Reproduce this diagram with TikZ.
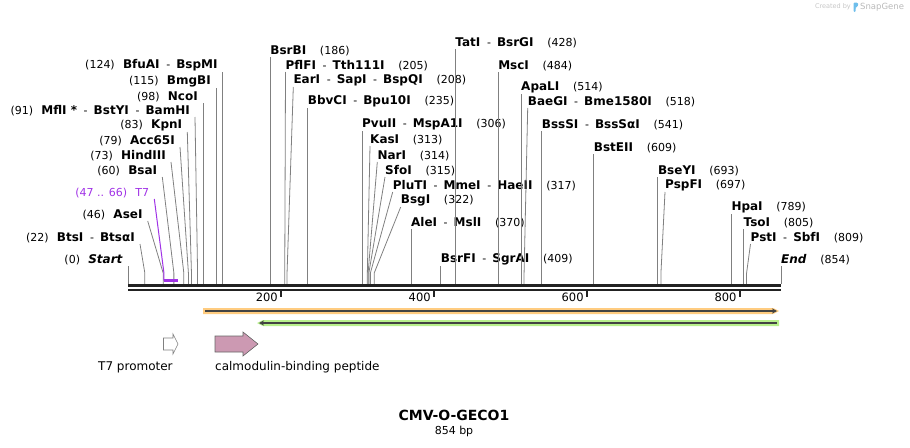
\documentclass[tikz,border=0pt]{standalone}
\usepackage{fontspec}
\setmainfont{DejaVu Sans}
\usetikzlibrary{arrows.meta}
\definecolor{sitegray}{RGB}{128,128,128}
\definecolor{axisblack}{RGB}{34,34,34}
\definecolor{tsevenviolet}{RGB}{160,50,230}
\definecolor{orffill}{RGB}{255,204,128}
\definecolor{revfill}{RGB}{184,240,140}
\definecolor{cbpfill}{RGB}{204,153,178}
\definecolor{logoblue}{RGB}{110,190,235}
\newcommand{\numgap}{\hspace{0.75em}}
\newcommand{\rnumgap}{\hspace{1.25em}}
\newcommand{\orsep}{\hspace{0.6em}-\hspace{0.55em}}
\newcommand{\enz}[1]{{\fontsize{12}{13}\selectfont\bfseries #1}}
\newcommand{\bpx}{0.76464}
\tikzset{cut/.style={draw=sitegray, line width=0.8pt}, }
\tikzset{left site/.style={anchor=south east, inner xsep=5pt, inner ysep=1pt, font=\fontsize{11}{13}\selectfont}, }
\tikzset{right site/.style={anchor=south west, inner xsep=0pt, inner ysep=1pt, font=\fontsize{11}{13}\selectfont}, }
\tikzset{feature label/.style={anchor=base west, inner sep=0pt, font=\fontsize{12}{14}\selectfont}, }
\tikzset{tick label/.style={anchor=east, inner sep=0pt, font=\fontsize{11.5}{13}\selectfont}, }

\begin{document}
\begin{tikzpicture}[x=1pt, y=-1pt]
	\useasboundingbox (0,0) rectangle (910,447);

	% cut sites on the sequence
	\coordinate (s0) at (128,284);
	\coordinate (s22) at ({128+22*\bpx},284);
	\coordinate (s46) at ({128+46*\bpx},284);
	\coordinate (s47) at ({128+47*\bpx},280.5);
	\coordinate (s66) at ({128+66*\bpx},280.5);
	\coordinate (s60) at ({128+60*\bpx},284);
	\coordinate (s73) at ({128+73*\bpx},284);
	\coordinate (s79) at ({128+79*\bpx},284);
	\coordinate (s83) at ({128+83*\bpx},284);
	\coordinate (s91) at ({128+91*\bpx},284);
	\coordinate (s98) at ({128+98*\bpx},284);
	\coordinate (s115) at ({128+115*\bpx},284);
	\coordinate (s124) at ({128+124*\bpx},284);
	\coordinate (s186) at ({128+186*\bpx},284);
	\coordinate (s205) at ({128+205*\bpx},284);
	\coordinate (s208) at ({128+208*\bpx},284);
	\coordinate (s235) at ({128+235*\bpx},284);
	\coordinate (s306) at ({128+306*\bpx},284);
	\coordinate (s313) at ({128+313*\bpx},284);
	\coordinate (s314) at ({128+314*\bpx},284);
	\coordinate (s315) at ({128+315*\bpx},284);
	\coordinate (s317) at ({128+317*\bpx},284);
	\coordinate (s322) at ({128+322*\bpx},284);
	\coordinate (s370) at ({128+370*\bpx},284);
	\coordinate (s409) at ({128+409*\bpx},284);
	\coordinate (s428) at ({128+428*\bpx},284);
	\coordinate (s484) at ({128+484*\bpx},284);
	\coordinate (s514) at ({128+514*\bpx},284);
	\coordinate (s518) at ({128+518*\bpx},284);
	\coordinate (s541) at ({128+541*\bpx},284);
	\coordinate (s609) at ({128+609*\bpx},284);
	\coordinate (s693) at ({128+693*\bpx},284);
	\coordinate (s697) at ({128+697*\bpx},284);
	\coordinate (s789) at ({128+789*\bpx},284);
	\coordinate (s805) at ({128+805*\bpx},284);
	\coordinate (s809) at ({128+809*\bpx},284);
	\coordinate (s854) at (781,284);

	% labels left of their lines
	\node[left site] (l124) at (s124 |- 0,72) {(124)\numgap\enz{BfuAI}\orsep\enz{BspMI}};
	\node[left site] (l115) at (s115 |- 0,88) {(115)\numgap\enz{BmgBI}};
	\node[left site] (l98) at (s98 |- 0,103) {(98)\numgap\enz{NcoI}};
	\node[left site] (l91) at (195,117) {(91)\numgap\enz{MflI *}\orsep\enz{BstYI}\orsep\enz{BamHI}};
	\node[left site] (l83) at (187.3,132) {(83)\numgap\enz{KpnI}};
	\node[left site] (l79) at (180,147) {(79)\numgap\enz{Acc65I}};
	\node[left site] (l73) at (171,162) {(73)\numgap\enz{HindIII}};
	\node[left site] (l60) at (162.3,177) {(60)\numgap\enz{BsaI}};
	\node[left site, text=tsevenviolet] (lt7) at (154.3,199) {(47 .. 66)\numgap T7};
	\node[left site] (l46) at (147.7,221) {(46)\numgap\enz{AseI}};
	\node[left site] (l22) at (140,244) {(22)\numgap\enz{BtsI}\orsep\enz{BtsαI}};
	\node[left site] (l0) at (s0 |- 0,266) {(0)\numgap\enz{\textit{Start}}};

	% labels right of their lines
	\node[right site] (l186) at (s186 |- 0,57) {\enz{BsrBI}\rnumgap(186)};
	\node[right site] (l205) at (285.5,72) {\enz{PflFI}\orsep\enz{Tth111I}\rnumgap(205)};
	\node[right site] (l208) at (293.3,87) {\enz{EarI}\orsep\enz{SapI}\orsep\enz{BspQI}\rnumgap(208)};
	\node[right site] (l235) at (s235 |- 0,108) {\enz{BbvCI}\orsep\enz{Bpu10I}\rnumgap(235)};
	\node[right site] (l306) at (s306 |- 0,131) {\enz{PvuII}\orsep\enz{MspA1I}\rnumgap(306)};
	\node[right site] (l313) at (370,146) {\enz{KasI}\rnumgap(313)};
	\node[right site] (l314) at (377.3,162) {\enz{NarI}\rnumgap(314)};
	\node[right site] (l315) at (385,177) {\enz{SfoI}\rnumgap(315)};
	\node[right site] (l317) at (392.7,192) {\enz{PluTI}\orsep\enz{MmeI}\orsep\enz{HaeII}\rnumgap(317)};
	\node[right site] (l322) at (400.7,207) {\enz{BsgI}\rnumgap(322)};
	\node[right site] (l370) at (s370 |- 0,229) {\enz{AleI}\orsep\enz{MslI}\rnumgap(370)};
	\node[right site] (l409) at (s409 |- 0,266) {\enz{BsrFI}\orsep\enz{SgrAI}\rnumgap(409)};
	\node[right site] (l428) at (s428 |- 0,49) {\enz{TatI}\orsep\enz{BsrGI}\rnumgap(428)};
	\node[right site] (l484) at (s484 |- 0,72) {\enz{MscI}\rnumgap(484)};
	\node[right site] (l514) at (s514 |- 0,94) {\enz{ApaLI}\rnumgap(514)};
	\node[right site] (l518) at (527.7,108) {\enz{BaeGI}\orsep\enz{Bme1580I}\rnumgap(518)};
	\node[right site] (l541) at (s541 |- 0,131) {\enz{BssSI}\orsep\enz{BssSαI}\rnumgap(541)};
	\node[right site] (l609) at (s609 |- 0,154) {\enz{BstEII}\rnumgap(609)};
	\node[right site] (l693) at (s693 |- 0,177) {\enz{BseYI}\rnumgap(693)};
	\node[right site] (l697) at (665,192) {\enz{PspFI}\rnumgap(697)};
	\node[right site] (l789) at (s789 |- 0,214) {\enz{HpaI}\rnumgap(789)};
	\node[right site] (l805) at (s805 |- 0,229) {\enz{TsoI}\rnumgap(805)};
	\node[right site] (l809) at (750.5,244) {\enz{PstI}\orsep\enz{SbfI}\rnumgap(809)};
	\node[right site] (l854) at (s854 |- 0,266) {\enz{\textit{End}}\rnumgap(854)};

	% lines from the sites up to the labels
	\draw[cut] (s0) -- (l0.south east);
	\draw[cut] (s22) -- ++(0,-11) -- (l22.south east);
	\draw[cut] (s46) -- ++(0,-11) -- (l46.south east);
	\draw[cut] (s60) -- ++(0,-11) -- (l60.south east);
	\draw[cut] (s73) -- ++(0,-11) -- (l73.south east);
	\draw[cut] (s79) -- ++(0,-11) -- (l79.south east);
	\draw[cut] (s83) -- ++(0,-11) -- (l83.south east);
	\draw[cut] (s91) -- ++(0,-11) -- (l91.south east);
	\draw[cut] (s98) -- (l98.south east);
	\draw[cut] (s115) -- (l115.south east);
	\draw[cut] (s124) -- (l124.south east);
	\draw[cut] (s186) -- (l186.south west);
	\draw[cut] (s205) -- ++(0,-11) -- (l205.south west);
	\draw[cut] (s208) -- ++(0,-11) -- (l208.south west);
	\draw[cut] (s235) -- (l235.south west);
	\draw[cut] (s306) -- (l306.south west);
	\draw[cut] (s313) -- ++(0,-11) -- (l313.south west);
	\draw[cut] (s314) -- ++(0,-11) -- (l314.south west);
	\draw[cut] (s315) -- ++(0,-11) -- (l315.south west);
	\draw[cut] (s317) -- ++(0,-11) -- (l317.south west);
	\draw[cut] (s322) -- ++(0,-11) -- (l322.south west);
	\draw[cut] (s370) -- (l370.south west);
	\draw[cut] (s409) -- (l409.south west);
	\draw[cut] (s428) -- (l428.south west);
	\draw[cut] (s484) -- (l484.south west);
	\draw[cut] (s514) -- (l514.south west);
	\draw[cut] (s518) -- ++(0,-11) -- (l518.south west);
	\draw[cut] (s541) -- (l541.south west);
	\draw[cut] (s609) -- (l609.south west);
	\draw[cut] (s693) -- (l693.south west);
	\draw[cut] (s697) -- ++(0,-11) -- (l697.south west);
	\draw[cut] (s789) -- (l789.south west);
	\draw[cut] (s805) -- (l805.south west);
	\draw[cut] (s809) -- ++(0,-11) -- (l809.south west);
	\draw[cut] (s854) -- (l854.south west);

	% T7 feature mark
	\draw[tsevenviolet, line width=1pt] (lt7.south east) -- (s47 |- 0,273) -- (s47);
	\draw[tsevenviolet, line width=2.2pt] (s47) -- (s66);

	% sequence
	\draw[axisblack, line width=2.4pt] (128,285.3) -- (781,285.3);
	\draw[axisblack, line width=2pt] (128,289.6) -- (781,289.6);
	\draw[axisblack, line width=1.6pt] ({128+200*\bpx},290) -- ++(0,7);
	\draw[axisblack, line width=1.6pt] ({128+400*\bpx},290) -- ++(0,7);
	\draw[axisblack, line width=1.6pt] ({128+600*\bpx},290) -- ++(0,7);
	\draw[axisblack, line width=1.6pt] ({128+800*\bpx},290) -- ++(0,7);
	\node[tick label] (n200) at ({128+200*\bpx-3},297) {200};
	\node[tick label] (n400) at ({128+400*\bpx-3},297) {400};
	\node[tick label] (n600) at ({128+600*\bpx-3},297) {600};
	\node[tick label] (n800) at ({128+800*\bpx-3},297) {800};

	% open reading frames
	\fill[orffill] (203,308) -- (773,308) -- (779,311) -- (773,314) -- (203,314) -- cycle;
	\draw[axisblack!85, line width=1.6pt, -{Stealth[length=5pt,width=5pt]}] (205,311) -- (777,311);
	\fill[revfill] (263,320) -- (779,320) -- (779,326) -- (263,326) -- (257,323) -- cycle;
	\draw[axisblack!85, line width=1.6pt, -{Stealth[length=5pt,width=5pt]}] (777,323) -- (259,323);

	% features
	\draw[gray, fill=white, line width=0.6pt] (163.5,338) -- (173,338) -- (173,334) -- (178,344) -- (173,354) -- (173,350) -- (163.5,350) -- cycle;
	\draw[gray!80!black, fill=cbpfill, line width=0.6pt] (215,336) -- (243,336) -- (243,332) -- (258,344) -- (243,356) -- (243,352) -- (215,352) -- cycle;
	\node[feature label] (ft7) at (98,370.5) {T7 promoter};
	\node[feature label] (fcbp) at (215,370.5) {calmodulin-binding peptide};

	% title
	\node[font=\fontsize{14}{16}\selectfont\bfseries] (title) at (454,415) {CMV-O-GECO1};
	\node[font=\fontsize{11}{13}\selectfont] (size) at (454,431) {854 bp};

	% logo
	\node[anchor=east, inner sep=0pt, text=gray!45, font=\fontsize{6.5}{8}\selectfont] (made) at (851,7) {Created by};
	\fill[logoblue, rounded corners=1pt] (853.5,12) -- (853.5,2.5) -- (857.5,2.5) -- (858.5,5) -- (856,7.5) -- (855.5,7.5) -- (855.5,12) -- cycle;
	\node[anchor=west, inner sep=0pt, text=gray!55, font=\fontsize{8.5}{10}\selectfont] (brand) at (860,7) {SnapGene};
\end{tikzpicture}
\end{document}
